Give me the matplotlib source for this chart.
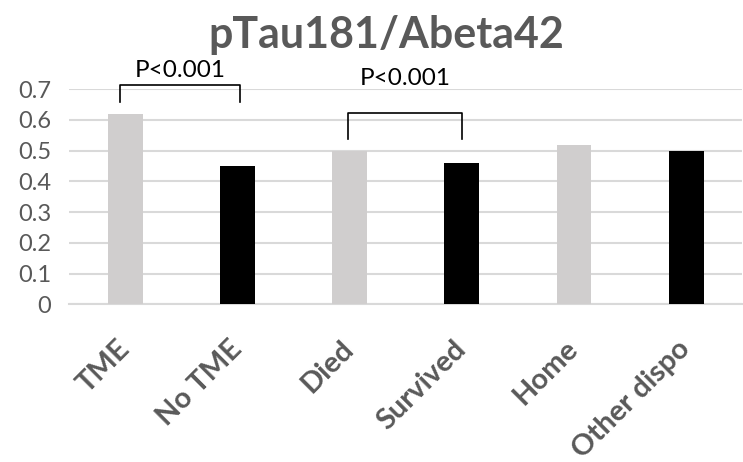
import matplotlib.pyplot as plt

# Data
categories = ['TME', 'No TME', 'Died', 'Survived', 'Home', 'Other dispo']
values = [0.62, 0.45, 0.50, 0.46, 0.52, 0.50]
bar_colors = ['#d0cece', '#000000', '#d0cece', '#000000', '#d0cece', '#000000']
y_ticks = [0, 0.1, 0.2, 0.3, 0.4, 0.5, 0.6, 0.7]
y_tick_labels = ['0', '0.1', '0.2', '0.3', '0.4', '0.5', '0.6', '0.7']

# significance brackets: (left x, right x, top y, leg bottom y, label)
brackets = [(-0.045, 1.02, 0.714, 0.658, 'P<0.001'),
            (1.99, 3.0, 0.624, 0.537, 'P<0.001')]
label_y = [0.728, 0.700]

plt.rcParams['font.family'] = ['Lato', 'DejaVu Sans']
text_gray = '#595959'

fig = plt.figure(figsize=(7.43, 4.62), dpi=100)
ax = fig.add_axes([0.093, 0.341, 0.906, 0.466])

x = list(range(len(categories)))
ax.bar(x, values, width=0.31, color=bar_colors, zorder=3)

ax.set_xlim(-0.5, len(categories) - 0.5)
ax.set_ylim(0, 0.7)
ax.set_yticks(y_ticks)
ax.set_yticklabels(y_tick_labels, fontsize=17, color=text_gray)
ax.set_xticks(x)
ax.set_xticklabels(categories, rotation=45, ha='right', va='center',
                   rotation_mode='anchor', fontsize=21, fontweight='bold',
                   color=text_gray)
ax.tick_params(axis='both', length=0)
ax.tick_params(axis='x', pad=29)
ax.tick_params(axis='y', pad=13)

ax.grid(axis='y', color='#d9d9d9', linewidth=1.5, zorder=0)
for side in ['top', 'right', 'left']:
    ax.spines[side].set_visible(False)
ax.spines['bottom'].set_color('#d9d9d9')
ax.spines['bottom'].set_linewidth(1.5)

for (x0, x1, top, bot, txt), ty in zip(brackets, label_y):
    ax.plot([x0, x0, x1, x1], [bot, top, top, bot], color='black',
            linewidth=1.2, clip_on=False, zorder=4)
    ax.text((x0 + x1) / 2, ty, txt, ha='center', va='bottom',
            fontsize=17.5, color='black')

fig.text(0.52, 0.924, 'pTau181/Abeta42', ha='center', va='center',
         fontsize=31, fontweight='bold', color=text_gray)

fig.savefig('out.png', dpi=100)
